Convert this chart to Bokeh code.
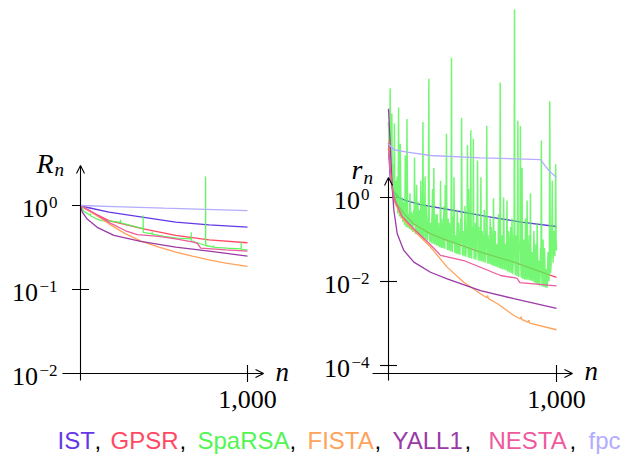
import numpy as np
from bokeh.plotting import figure
from bokeh.models import Range1d, LogScale, LinearScale, Arrow, OpenHead, Label, ColumnDataSource
from bokeh.embed import file_html
from bokeh.resources import INLINE
from bokeh.core.properties import value

# ------------------------------------------------------------------ data
algorithms = ["IST", "GPSR", "SpaRSA", "FISTA", "YALL1", "NESTA", "fpc"]
colors = ["#6438e6", "#ff4863", "#52f552", "#ffa25a", "#9a3aa6", "#ee5a9c", "#b4acff"]

# left panel: R_n
ist_l_n = [0, 50, 170, 370, 570, 770, 1000]
ist_l_v = [1.0, 0.94, 0.834, 0.726, 0.634, 0.589, 0.552]
gpsr_l_n = [0, 30, 70, 170, 370, 570, 770, 1000]
gpsr_l_v = [1.0, 0.91, 0.83, 0.66, 0.53, 0.44, 0.39, 0.36]
sparsa_l_n = [0, 20, 60, 60, 61, 120, 180, 240, 240, 241, 300, 375, 375, 376, 429, 429, 430,
              500, 579, 663, 663, 664, 749, 749, 750, 798, 798, 799, 878, 962, 962, 963, 1000]
sparsa_l_v = [1.0, 0.85, 0.76, 0.80, 0.75, 0.66, 0.65, 0.63, 0.675, 0.62, 0.58, 0.53, 0.76, 0.48,
              0.46, 0.49, 0.455, 0.43, 0.41, 0.40, 0.48, 0.38, 0.334, 2.21, 0.334, 0.32, 0.335,
              0.318, 0.31, 0.305, 0.366, 0.30, 0.297]
fista_l_n = [0, 50, 100, 170, 270, 370, 470, 570, 670, 770, 870, 1000]
fista_l_v = [1.0, 0.87, 0.75, 0.605, 0.46, 0.372, 0.319, 0.278, 0.249, 0.225, 0.206, 0.188]
yall1_l_n = [0, 10, 40, 100, 200, 360, 570, 770, 1000]
yall1_l_v = [1.0, 0.84, 0.69, 0.55, 0.44, 0.375, 0.32, 0.286, 0.25]
nesta_l_n = [0, 50, 100, 170, 270, 340, 470, 570, 670, 700, 720, 870, 1000]
nesta_l_v = [1.0, 0.88, 0.77, 0.63, 0.50, 0.45, 0.43, 0.40, 0.37, 0.355, 0.31, 0.296, 0.286]
fpc_l_n = [0, 250, 500, 750, 1000]
fpc_l_v = [1.0, 0.965, 0.93, 0.90, 0.87]

# right panel: r_n
ist_r_n = [0, 10, 30, 60, 100, 190, 390, 590, 790, 1000]
ist_r_v = [15, 3.0, 1.4, 1.0, 0.85, 0.68, 0.49, 0.35, 0.26, 0.204]
gpsr_r_n = [0, 10, 25, 50, 100, 151, 250, 349, 548, 746, 1000]
gpsr_r_v = [20, 5, 1.5, 0.7, 0.38, 0.234, 0.136, 0.095, 0.05, 0.029, 0.0126]
# SpaRSA, right panel: log10 of r_n, readings at n = 0, 5, 10, ... 1000
sparsa_r_log10 = [
    1.8, 1.0, 2.6, 0.4, 2.0, 0.2, 0.05, 1.76, -0.15, -0.2,
    0.3, -0.38, 2.14, -0.45, 1.28, -0.5, -0.3, -0.58, -0.2, -0.65,
    1.0, -0.7, 1.87, -0.72, -0.4, -0.75, -0.2, -0.78, -0.5, -0.82,
    -0.3, 0.95, -0.87, -0.45, -0.88, -0.1, -0.9, -0.6, -0.93, -0.35,
    -0.95, 1.8, -0.98, -0.5, -1.0, -0.2, -1.03, -0.7, 2.83, -1.05,
    -0.6, -1.09, -0.3, -1.1, 0.7, -1.12, -0.8, -1.14, -0.4, -1.16,
    -0.9, -1.18, 0.4, -1.2, -0.7, -1.21, -0.2, -1.22, -0.9, 1.52,
    -1.25, -0.5, -1.26, -0.8, -1.28, 3.33, -1.3, -0.6, 0.48, -1.32,
    -0.9, -1.34, -0.3, -1.35, -1.0, -1.36, -0.5, 1.9, -1.38, -0.8,
    -1.4, -0.2, -1.41, -0.9, 1.25, -1.43, -0.6, -1.44, 1.6, -1.45,
    -0.8, 1.4, -1.47, -1.0, -1.48, -0.4, 0.88, -1.5, -0.9, -1.51,
    0.48, -1.52, -1.0, -1.54, -0.3, -1.55, -0.9, 1.71, -1.57, -1.1,
    -1.58, -0.5, -1.6, -1.0, -1.62, -0.02, -1.63, -0.8, -1.65, -1.2,
    -1.66, -0.4, -1.68, 2.74, -1.7, -0.9, -1.71, 0.0, -1.72, -1.1,
    -1.74, -0.07, -1.76, -0.8, -1.78, -1.2, -1.8, -0.5, -1.82, -1.0,
    4.48, -1.85, -0.9, -1.87, 1.83, -1.89, -1.2, 1.7, -1.91, 0.71,
    -1.94, -1.0, -1.95, -0.5, -1.96, -0.07, -1.96, -1.2, -1.97, 0.1,
    -1.98, -1.3, -2.0, -0.8, -2.03, -1.4, -2.05, -0.6, -2.07, -1.5,
    -2.1, -1.2, 1.36, -2.12, -1.0, -2.13, -1.4, -2.14, -1.7, -2.15,
    -1.3, -2.0, 2.29, -1.8, -1.0, 0.4, -1.55, -0.8, -1.4, 0.79,
    -1.26,
]
# SpaRSA, right panel: log10 of r_n, readings at n = 2.5, 7.5, ... 997.5
sparsa_r_mid_log10 = [
    1.2, 1.5, 0.9, 1.1, 0.6, 0.8, 0.5, 0.3, 0.4, 0.1,
    0.5, -0.1, 0.2, -0.2, 0.3, -0.3, 0.0, -0.4, -0.1, -0.3,
    -0.3, -0.5, 0.2, -0.4, -0.6, 0.1, -0.5, -0.35, -0.65, -0.45,
    -0.6, -0.4, -0.7, 0.3, -0.5, -0.75, -0.3, -0.6, 0.4, -0.7,
    -0.5, -0.8, -0.3, 0.5, -0.7, -0.55, -0.85, -0.4, -0.75, -0.9,
    -0.85, -0.6, 0.2, -0.9, -0.5, -0.95, -0.4, -0.7, -1.0, -0.6,
    -1.0, -0.7, -0.95, -0.5, -1.05, -0.8, -0.6, 0.3, -1.0, -0.75,
    -1.0, -0.9, -0.6, -1.1, -0.7, -1.05, -0.45, -1.1, -0.8, -1.0,
    -1.1, -0.7, -1.15, -0.6, -1.2, -0.9, -1.1, -0.4, -1.15, -1.0,
    -1.1, -0.8, -1.2, -0.5, -1.15, 0.2, -1.2, -0.9, -1.1, -0.7,
    -1.2, -0.9, -1.25, -0.6, -1.2, -1.0, -1.3, -0.7, -1.25, -0.9,
    -1.25, -0.8, -1.3, -1.1, -0.5, -1.3, -1.0, -1.35, -0.9, -1.3,
    -1.3, -1.1, -0.7, -1.35, -1.2, -1.4, -0.9, -1.35, -1.1, -1.45,
    -1.35, -0.6, -1.2, -1.4, -1.0, -1.45, -1.2, -0.8, -1.45, -1.3,
    -1.4, -1.1, -1.5, -1.0, -1.45, -0.7, -1.5, -1.2, -1.55, -0.8,
    -1.5, -1.2, -1.55, -0.5, -1.6, -1.3, -1.0, -1.6, -0.6, -1.65,
    -1.6, -1.3, -1.7, -1.1, -1.65, -1.4, -1.7, -0.9, -1.75, -1.5,
    -1.7, -1.5, -1.75, -1.2, -1.8, -1.1, -1.85, -1.3, -1.9, -1.7,
    -1.85, -1.6, -1.9, -1.4, -1.95, -1.2, -1.9, -1.8, -2.0, -1.6,
    -1.7, -1.5, -1.2, -1.6, -0.6, -1.3, -1.1, -1.2, -0.9, -1.0,
]
fista_r_n = [0, 10, 20, 32, 80, 151, 250, 349, 448, 548, 585, 590, 595, 647, 746,
             785, 790, 795, 830, 835, 840, 1000]
fista_r_v = [23, 5, 1.8, 0.85, 0.33, 0.164, 0.066, 0.022, 0.0096, 0.0051, 0.0041, 0.0046,
             0.0039, 0.0030, 0.00155, 0.00128, 0.00145, 0.00124, 0.00108, 0.0012, 0.00102,
             0.00071]
yall1_r_n = [0, 12, 22, 32, 52, 91, 151, 250, 349, 548, 746, 1000]
yall1_r_v = [130, 13, 1.76, 0.49, 0.137, 0.055, 0.029, 0.0166, 0.0115, 0.0061, 0.0039, 0.0023]
nesta_r_n = [0, 10, 30, 80, 150, 250, 310, 448, 667, 746, 766, 782, 1000]
nesta_r_v = [20, 5, 1.0, 0.36, 0.18, 0.075, 0.042, 0.0316, 0.0139, 0.0123, 0.0118, 0.0094, 0.0079]
fpc_r_n = [0, 32, 111, 250, 548, 905, 935, 964, 1000]
fpc_r_v = [19, 13.7, 12.0, 10.0, 8.8, 8.0, 5.5, 4.0, 3.05]

# ticks
left_yticks = [1.0, 0.1, 0.01]
left_yexp = ["0", "\u22121", "\u22122"]
right_yticks = [1.0, 0.01, 1e-4]
right_yexp = ["0", "\u22122", "\u22124"]
xtick = 1000

# merge the two SpaRSA reading sets in iteration order
sparsa_r_n, sparsa_r_l = [], []
for i, v in enumerate(sparsa_r_log10):
    sparsa_r_n.append(5 * i)
    sparsa_r_l.append(v)
    if i < len(sparsa_r_mid_log10):
        sparsa_r_n.append(5 * i + 2.5)
        sparsa_r_l.append(sparsa_r_mid_log10[i])
sparsa_r_v = list(np.power(10.0, sparsa_r_l))

# ------------------------------------------------------------------ layout
W, H = 640, 455
# pixel calibration (picture coordinates)
L = dict(x0=80.0, x1000=247.0, y_e0=205.0, dec=84.0)
R = dict(x0=388.0, x1000=556.0, y_e0=197.0, dec=42.0)


def xr(c):
    k = (c["x1000"] - c["x0"]) / 1000.0
    return Range1d(-c["x0"] / k, (W - c["x0"]) / k)


def yr(c):
    top = c["y_e0"] / c["dec"]
    bot = (c["y_e0"] - H) / c["dec"]
    return Range1d(10 ** bot, 10 ** top)


p = figure(width=W, height=H, x_range=xr(L), y_range=yr(L), y_axis_type="log",
           x_axis_location=None, y_axis_location=None,
           output_backend="svg", toolbar_location=None, min_border=0)
p.grid.visible = False
p.outline_line_color = None
p.background_fill_color = "white"
p.border_fill_color = "white"
p.extra_x_ranges = {"r": xr(R)}
p.extra_x_scales = {"r": LinearScale()}
p.extra_y_ranges = {"r": yr(R)}
p.extra_y_scales = {"r": LogScale()}

SERIF = value("Liberation Serif")
MID = "middle"

# ------------------------------------------------------------------ axes
def draw_axes(rn, x_lo, x_hi, y_axis_lo, y_axis_hi, y_xaxis, yticks, yexps, lab_right,
              ylab, ylab_dx, ylab_dy, sub_dy):
    kw = {} if rn is None else dict(x_range_name=rn, y_range_name=rn)
    head = OpenHead(size=8, line_width=1.1, line_color="black")
    p.add_layout(Arrow(end=head, x_start=x_lo, x_end=x_hi, y_start=y_xaxis, y_end=y_xaxis,
                       line_color="black", line_width=1.1, **kw))
    head2 = OpenHead(size=8, line_width=1.1, line_color="black")
    p.add_layout(Arrow(end=head2, x_start=0, x_end=0, y_start=y_axis_lo, y_end=y_axis_hi,
                       line_color="black", line_width=1.1, **kw))
    # tick marks
    p.scatter(x=[0] * len(yticks), y=yticks, marker="dash", size=17, line_color="black",
              line_width=1.1, **kw)
    p.scatter(x=[xtick], y=[y_xaxis], marker="dash", size=17, angle=np.pi / 2,
              line_color="black", line_width=1.1, **kw)
    # tick labels: mantissa "10" and exponent
    expw = [9.5 if e == "0" else 19.5 for e in yexps]
    src = ColumnDataSource(dict(x=[0] * len(yticks), y=yticks, t=["10"] * len(yticks),
                                e=yexps, xo=[lab_right - w for w in expw],
                                xe=[lab_right] * len(yticks)))
    p.text(x="x", y="y", text="t", x_offset="xo", y_offset=2.5, source=src,
           text_align="right", text_baseline=MID, text_font=SERIF,
           text_font_size="26px", text_color="black", **kw)
    p.text(x="x", y="y", text="e", x_offset="xe", y_offset=-3, source=src,
           text_align="right", text_baseline=MID, text_font=SERIF,
           text_font_size="17px", text_color="black", **kw)
    p.text(x=[xtick], y=[y_xaxis], text=[f"{xtick:,}"], y_offset=26, text_align="center",
           text_baseline=MID, text_font=SERIF, text_font_size="26px",
           text_color="black", **kw)
    # axis labels
    p.text(x=[x_hi], y=[y_xaxis], text=["n"], x_offset=12, y_offset=-2, text_align="left",
           text_baseline=MID, text_font=SERIF, text_font_style="italic",
           text_font_size="27px", text_color="black", **kw)
    p.text(x=[0], y=[y_axis_hi], text=[ylab], x_offset=ylab_dx, y_offset=ylab_dy,
           text_align="right", text_baseline=MID, text_font=SERIF,
           text_font_style="italic", text_font_size="28px", text_color="black", **kw)
    p.text(x=[0], y=[y_axis_hi], text=["n"], x_offset=ylab_dx + 1, y_offset=sub_dy,
           text_align="left", text_baseline=MID, text_font=SERIF,
           text_font_style="italic", text_font_size="19px", text_color="black", **kw)


draw_axes(None, -108, 1096, 10 ** -2.083, 10 ** 0.476, 0.01, left_yticks, left_yexp,
          -23, "R", -27, -2.5, 3.5)
draw_axes("r", -95, 1095, 10 ** -4.36, 10 ** 0.476, 10 ** -4.19, right_yticks, right_yexp,
          -19, "r", -26, -8.5, -0.5)

# ------------------------------------------------------------------ series
left = [(ist_l_n, ist_l_v), (gpsr_l_n, gpsr_l_v), (sparsa_l_n, sparsa_l_v),
        (fista_l_n, fista_l_v), (yall1_l_n, yall1_l_v), (nesta_l_n, nesta_l_v),
        (fpc_l_n, fpc_l_v)]
right = [(ist_r_n, ist_r_v), (gpsr_r_n, gpsr_r_v), (sparsa_r_n, sparsa_r_v),
         (fista_r_n, fista_r_v), (yall1_r_n, yall1_r_v), (nesta_r_n, nesta_r_v),
         (fpc_r_n, fpc_r_v)]

for (xs, ys), c, name in zip(left, colors, algorithms):
    p.line(xs, ys, line_color=c, line_width=1.3, line_alpha=0.9 if name == "SpaRSA" else 1.0)
for (xs, ys), c, name in zip(right, colors, algorithms):
    green = name == "SpaRSA"
    p.line(xs, ys, line_color=c, line_width=1.5 if green else 1.3,
           line_alpha=0.8 if green else 1.0, x_range_name="r", y_range_name="r")

# ------------------------------------------------------------------ legend (text)
word_x = [57, 110, 197, 307, 392, 488, 588]
comma_x = [94, 179, 289, 374, 464, 569]
mid_y = H - 440  # screen y (from bottom) of the legend's middle line
for i, (name, c) in enumerate(zip(algorithms, colors)):
    p.add_layout(Label(x=word_x[i], y=mid_y, x_units="screen", y_units="screen",
                       text=name, text_color=c, text_font="Liberation Sans",
                       text_font_size="24px", text_align="left", text_baseline=MID))
    if i < len(comma_x):
        p.add_layout(Label(x=comma_x[i], y=mid_y, x_units="screen", y_units="screen",
                           text=",", text_color="black", text_font="Liberation Sans",
                           text_font_size="24px", text_align="left", text_baseline=MID))

open("out.html", "w").write(file_html(p, INLINE))
